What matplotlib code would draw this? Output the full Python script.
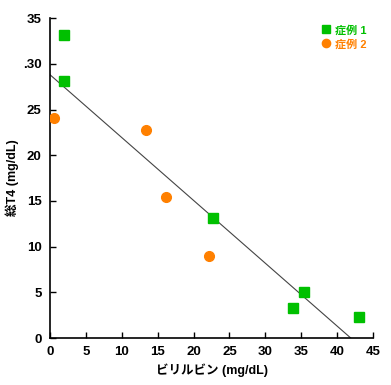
import matplotlib
matplotlib.use("Agg")
import matplotlib.pyplot as plt

plt.rcParams['font.family'] = ['Liberation Sans', 'Noto Sans CJK JP', 'DejaVu Sans']

# case 1 (green squares)
case1_x = [1.9, 1.9, 22.7, 35.4, 33.8, 43.0]
case1_y = [33.2, 28.1, 13.1, 5.0, 3.3, 2.3]
# case 2 (orange circles)
case2_x = [0.5, 13.4, 16.2, 22.1]
case2_y = [24.1, 22.8, 15.4, 9.0]
# regression line end points
fit_x = [0, 41.9]
fit_y = [28.8, 0]

xticks = [0, 5, 10, 15, 20, 25, 30, 35, 40, 45]
yticks = [0, 5, 10, 15, 20, 25, 30, 35]
ytick_labels = ["0", "5", "10", "15", "20", "25", ".30", "35"]

green = "#00c000"
orange = "#ff8000"

fig = plt.figure(figsize=(3.91, 3.85), dpi=100)
ax = fig.add_axes([0.128, 0.122, 0.826, 0.831])

ax.plot(fit_x, fit_y, color="#444444", lw=0.8, zorder=1)
ax.plot(case1_x, case1_y, "s", color=green, ms=7, mec=green, ls="none", zorder=3, label="症例 1")
ax.plot(case2_x, case2_y, "o", color=orange, ms=7, mec=orange, ls="none", zorder=3, label="症例 2")

ax.set_xlim(0, 45)
ax.set_ylim(0, 35)
ax.set_xticks(xticks)
ax.set_yticks(yticks)
ax.set_yticklabels(ytick_labels)
ax.tick_params(direction="in", length=4, width=1, labelsize=9.5, pad=6)
for lbl in ax.get_xticklabels() + ax.get_yticklabels():
    lbl.set_fontweight("bold")
for s in ["top", "right"]:
    ax.spines[s].set_visible(False)
for s in ["left", "bottom"]:
    ax.spines[s].set_linewidth(1.2)

ax.set_xlabel("ビリルビン (mg/dL)", fontsize=9, fontweight="bold", labelpad=4)
ax.set_ylabel("総T4 (mg/dL)", fontsize=9, fontweight="bold", labelpad=3)

leg = ax.legend(loc="upper right", bbox_to_anchor=(1.0, 1.0), frameon=False,
                fontsize=8, handlelength=0.6, handletextpad=0.5, labelspacing=0.3,
                borderaxespad=0.2, markerscale=0.85)
for txt, c in zip(leg.get_texts(), [green, orange]):
    txt.set_color(c)
    txt.set_fontweight("bold")

fig.savefig("out.png", dpi=100)
